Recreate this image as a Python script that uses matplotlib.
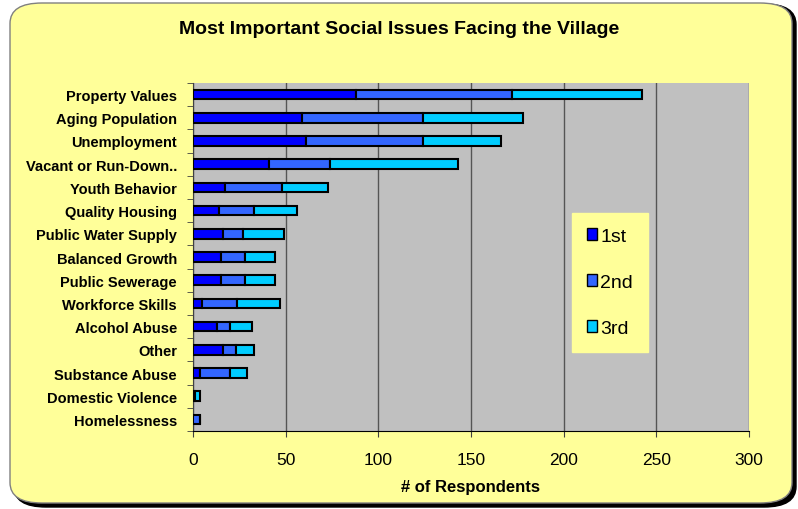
import numpy as np
import matplotlib
matplotlib.use("Agg")
import matplotlib.pyplot as plt
from matplotlib.patches import FancyBboxPatch

plt.rcParams['font.family'] = ['Liberation Sans', 'DejaVu Sans']

# Data
issues = ["Property Values", "Aging Population", "Unemployment", "Vacant or Run-Down..",
          "Youth Behavior", "Quality Housing", "Public Water Supply", "Balanced Growth",
          "Public Sewerage", "Workforce Skills", "Alcohol Abuse", "Other",
          "Substance Abuse", "Domestic Violence", "Homelessness"]
first = [88, 59, 61, 41, 17, 14, 16, 15, 15, 5, 13, 16, 4, 1, 0]
second = [84, 65, 63, 33, 31, 19, 11, 13, 13, 19, 7, 7, 16, 0, 4]
third = [70, 54, 42, 69, 25, 23, 22, 16, 16, 23, 12, 10, 9, 3, 0]
series_names = ["1st", "2nd", "3rd"]
colors = ["#0000FF", "#3366FF", "#00CCFF"]

fig = plt.figure(figsize=(7.98, 5.10), dpi=100)
fig.patch.set_facecolor("white")

# rounded yellow panel with dark shadow
shadow = FancyBboxPatch((14 / 798, 2 / 510), 782 / 798, 503 / 510,
                        boxstyle="round,pad=0,rounding_size=0.04", transform=fig.transFigure,
                        facecolor="black", edgecolor="black", zorder=0)
panel = FancyBboxPatch((10 / 798, 6 / 510), 782 / 798, 500 / 510,
                       boxstyle="round,pad=0,rounding_size=0.04", transform=fig.transFigure,
                       facecolor="#FFFF99", edgecolor="#808080", linewidth=1, zorder=1)
fig.patches.extend([shadow, panel])

ax = fig.add_axes([193 / 798, 1 - 432 / 510, 556 / 798, 348 / 510])
ax.set_facecolor("#C0C0C0")
ax.set_zorder(2)

y = np.arange(len(issues))
left = np.zeros(len(issues))
for vals, name, c in zip([first, second, third], series_names, colors):
    ax.barh(y, vals, left=left, height=0.42, color=c, edgecolor="black",
            linewidth=1.5, label=name, zorder=3)
    left = left + np.array(vals)

ax.set_xlim(0, 300)
ax.set_ylim(len(issues) - 0.5, -0.5)
ax.set_xticks(np.arange(0, 301, 50))
ax.set_yticks(np.arange(len(issues) + 1) - 0.5, minor=True)
ax.set_yticks(y)
ax.set_yticklabels(issues, fontsize=10.5, fontweight="bold")
ax.tick_params(axis="y", which="major", length=0, pad=11.5)
ax.tick_params(axis="y", which="minor", length=4, color="#404040")
ax.tick_params(axis="x", length=4, labelsize=12.5, pad=11, color="#404040")
ax.xaxis.grid(True, color="#555555", linewidth=1, zorder=1)
ax.set_axisbelow(True)
for side in ["top", "right"]:
    ax.spines[side].set_visible(False)
ax.spines["left"].set_color("#404040")
ax.spines["bottom"].set_color("black")
ax.set_xlabel("# of Respondents", fontsize=12, fontweight="bold", labelpad=9)

fig.text(0.5, 1 - 30 / 510, "Most Important Social Issues Facing the Village",
         ha="center", va="center", fontsize=14, fontweight="bold", zorder=5)

leg = ax.legend(loc="upper left", bbox_to_anchor=((572 - 193) / 556, (432 - 214) / 348),
                frameon=True, fancybox=False, fontsize=14, labelspacing=1.5,
                handlelength=0.55, handleheight=0.55, handletextpad=0.15,
                borderpad=0.75, borderaxespad=0)
leg.get_frame().set_facecolor("#FFFF99")
leg.get_frame().set_edgecolor("#FFFF99")
leg.get_frame().set_alpha(1)
for h in leg.legend_handles:
    h.set_linewidth(1)

fig.savefig("out.png", dpi=100)
